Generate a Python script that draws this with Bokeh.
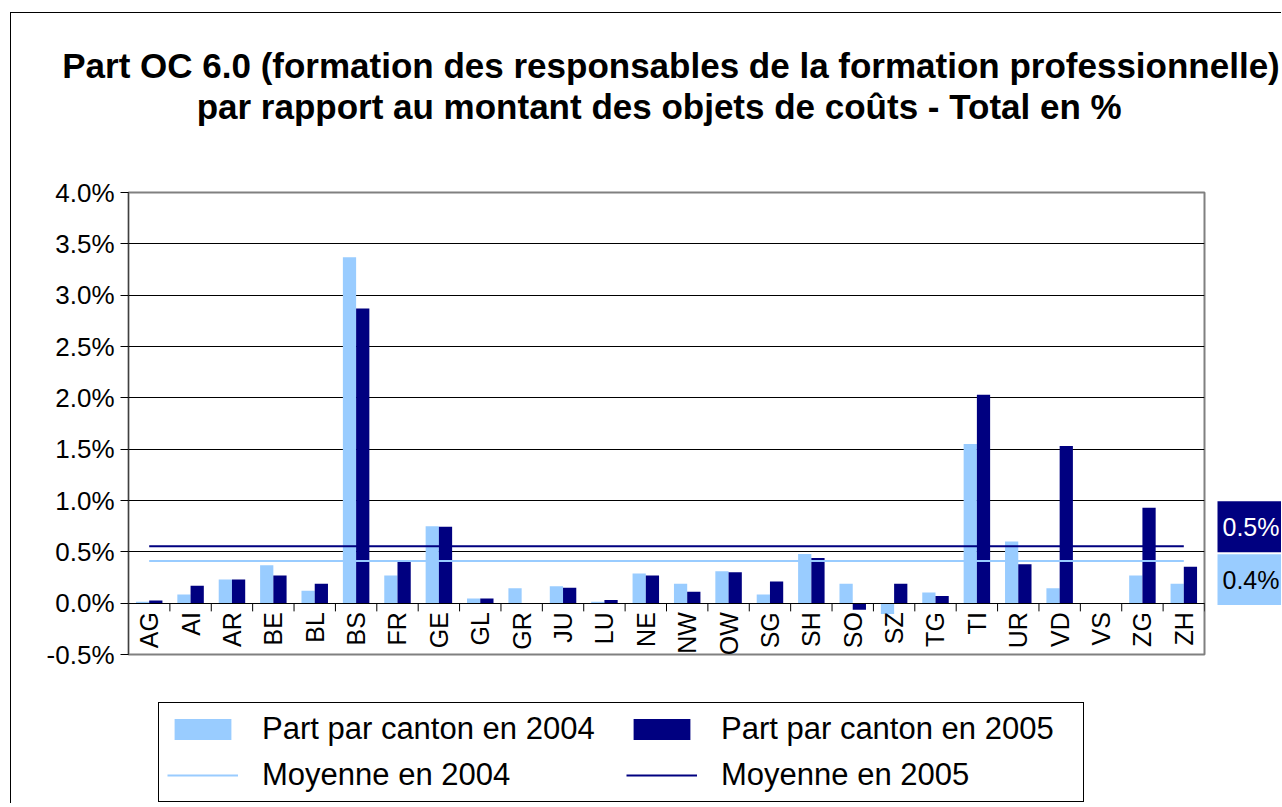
import math
from bokeh.plotting import figure
from bokeh.layouts import column, row
from bokeh.models import (FactorRange, Range1d, Legend, LegendItem, Label, FixedTicker,
                          PrintfTickFormatter, ColumnDataSource)
from bokeh.core.properties import value
from bokeh.transform import dodge
from bokeh.embed import file_html
from bokeh.resources import INLINE

# ---------------- data ----------------
cantons = ["AG", "AI", "AR", "BE", "BL", "BS", "FR", "GE", "GL", "GR", "JU", "LU", "NE",
           "NW", "OW", "SG", "SH", "SO", "SZ", "TG", "TI", "UR", "VD", "VS", "ZG", "ZH"]
share_2004 = [0.015, 0.085, 0.23, 0.37, 0.12, 3.37, 0.27, 0.75, 0.045, 0.145, 0.165, 0.015, 0.29,
              0.19, 0.31, 0.085, 0.48, 0.19, -0.105, 0.105, 1.55, 0.60, 0.145, 0.0, 0.27, 0.19]
share_2005 = [0.025, 0.17, 0.23, 0.27, 0.19, 2.87, 0.40, 0.745, 0.045, 0.0, 0.15, 0.03, 0.27,
              0.11, 0.30, 0.21, 0.44, -0.065, 0.19, 0.07, 2.03, 0.38, 1.53, 0.0, 0.93, 0.355]
mean_2004 = 0.41
mean_2005 = 0.555
mean_label_2004 = "0.4%"
mean_label_2005 = "0.5%"
y_ticks = [-0.5, 0.0, 0.5, 1.0, 1.5, 2.0, 2.5, 3.0, 3.5, 4.0]
title_lines = ["Part OC 6.0 (formation des responsables de la formation professionnelle)",
               "par rapport au montant des objets de coûts  - Total en %"]
legend_labels = ["Part par canton en 2004", "Part par canton en 2005",
                 "Moyenne en 2004", "Moyenne en 2005"]

FONT = "Liberation Sans"
LIGHT = "#99CCFF"
NAVY = "#000080"


def blank_figure(w, h, x_range=None, y_range=None, top=0, bottom=0):
    f = figure(width=w, height=h,
               x_range=x_range if x_range is not None else Range1d(0, 1),
               y_range=y_range if y_range is not None else Range1d(0, 1),
               x_axis_type=None, y_axis_type=None, output_backend="svg",
               toolbar_location=None, min_border=0, min_border_left=0, min_border_right=0,
               min_border_top=top, min_border_bottom=bottom)
    f.outline_line_color = None
    f.background_fill_color = "white"
    f.border_fill_color = "white"
    f.xgrid.visible = False
    f.ygrid.visible = False
    return f


# ---------------- title strip ----------------
title_fig = blank_figure(1268, 150)
for text, x, y in zip(title_lines, [659.5, 652.5], [98, 57]):
    title_fig.add_layout(Label(x=x, y=y, x_units="screen", y_units="screen", text=text,
                               text_align="center", text_baseline="middle", text_font=FONT,
                               text_font_style="bold", text_font_size="35px",
                               text_color="black"))

# ---------------- main chart ----------------
src = ColumnDataSource(dict(
    canton=cantons, y2004=share_2004, y2005=share_2005,
    m2004=[mean_2004] * len(cantons), m2005=[mean_2005] * len(cantons)))

MAIN_H = 537
BORDER_TOP = 29
BORDER_BOTTOM = 46
p = figure(x_range=FactorRange(*cantons), y_range=Range1d(-0.5, 4.0),
           width=1198, height=MAIN_H, output_backend="svg", toolbar_location=None,
           min_border_left=117, min_border_top=BORDER_TOP, min_border_right=5,
           min_border_bottom=BORDER_BOTTOM)
p.background_fill_color = "white"
p.border_fill_color = "white"
p.outline_line_color = "#808080"
p.outline_line_width = 2

p.vbar(x=dodge("canton", -0.16, range=p.x_range), top="y2004", width=0.32, source=src,
       fill_color=LIGHT, line_color=None)
p.vbar(x=dodge("canton", 0.16, range=p.x_range), top="y2005", width=0.32, source=src,
       fill_color=NAVY, line_color=None)
p.line("canton", "m2004", source=src, line_color=LIGHT, line_width=2)
p.line("canton", "m2005", source=src, line_color=NAVY, line_width=2)

# category boundary tick marks below the zero line
bounds = list(range(len(cantons) + 1))
p.segment(x0=bounds, y0=[0] * len(bounds), x1=bounds, y1=[-0.08] * len(bounds),
          line_color="black", line_width=1)

p.xgrid.visible = False
p.ygrid.ticker = FixedTicker(ticks=y_ticks)
p.ygrid.grid_line_color = "black"
p.ygrid.grid_line_width = 1

p.yaxis.ticker = FixedTicker(ticks=y_ticks)
p.yaxis.formatter = PrintfTickFormatter(format="%.1f%%")
p.yaxis.major_label_text_font = FONT
p.yaxis.major_label_text_font_size = "26px"
p.yaxis.major_label_text_color = "black"
p.yaxis.major_tick_out = 8
p.yaxis.major_tick_in = 0
p.yaxis.minor_tick_line_color = None
p.yaxis.axis_line_color = "#404040"
p.yaxis.major_label_standoff = 6

p.xaxis.fixed_location = 0
p.xaxis.major_label_orientation = math.pi / 2
p.xaxis.major_label_text_font = FONT
p.xaxis.major_label_text_font_size = "25px"
p.xaxis.major_label_text_color = "black"
p.xaxis.major_tick_line_color = None
p.xaxis.major_tick_out = 0
p.xaxis.major_tick_in = 0
p.xaxis.major_label_standoff = 9
p.xaxis.axis_line_color = "black"

# ---------------- side strip with the mean values (shares the y scale) ----------------
side = blank_figure(72, MAIN_H, x_range=Range1d(0, 72), y_range=p.y_range,
                    top=BORDER_TOP, bottom=BORDER_BOTTOM)
box_src = ColumnDataSource(dict(
    text=[mean_label_2005, mean_label_2004],
    left=[8, 8], right=[72, 72], bottom=[0.496, -0.019], top=[0.993, 0.477],
    tx=[13, 13], ty=[0.745, 0.229],
    fill=[NAVY, LIGHT], color=["white", "black"]))
side.quad(left="left", right="right", bottom="bottom", top="top", source=box_src,
          fill_color="fill", line_color=None)
side.text(x="tx", y="ty", text="text", source=box_src, text_color="color",
          text_font=value(FONT), text_font_size="25px", text_align="left",
          text_baseline="middle")

# ---------------- legend strip ----------------
leg_fig = blank_figure(1268, 103)
offscreen = ColumnDataSource(dict(x=[-5], y=[-5]))
l1 = leg_fig.vbar(x="x", top="y", width=1, source=offscreen, fill_color=LIGHT, line_color=None)
l2 = leg_fig.vbar(x="x", top="y", width=1, source=offscreen, fill_color=NAVY, line_color=None)
l3 = leg_fig.line(x="x", y="y", source=offscreen, line_color=LIGHT, line_width=2)
l4 = leg_fig.line(x="x", y="y", source=offscreen, line_color=NAVY, line_width=2)
legend = Legend(
    items=[LegendItem(label=legend_labels[0], renderers=[l1]),
           LegendItem(label=legend_labels[1], renderers=[l2]),
           LegendItem(label=legend_labels[2], renderers=[l3]),
           LegendItem(label=legend_labels[3], renderers=[l4])],
    orientation="horizontal", ncols=2, location=(147, 1),
    label_text_font=FONT, label_text_font_size="31px", label_text_color="black",
    glyph_width=71, glyph_height=26, label_standoff=24, label_width=354,
    spacing=10, padding=8, border_line_color="black", border_line_width=1,
    border_line_alpha=1.0, background_fill_color="white", background_fill_alpha=1.0)
leg_fig.add_layout(legend)

layout = column(title_fig, row(p, side), leg_fig, margin=(12, 0, 0, 10),
                styles={"border-left": "1px solid #000000", "border-top": "1px solid #000000"})

open("out.html", "w").write(file_html(layout, INLINE))
